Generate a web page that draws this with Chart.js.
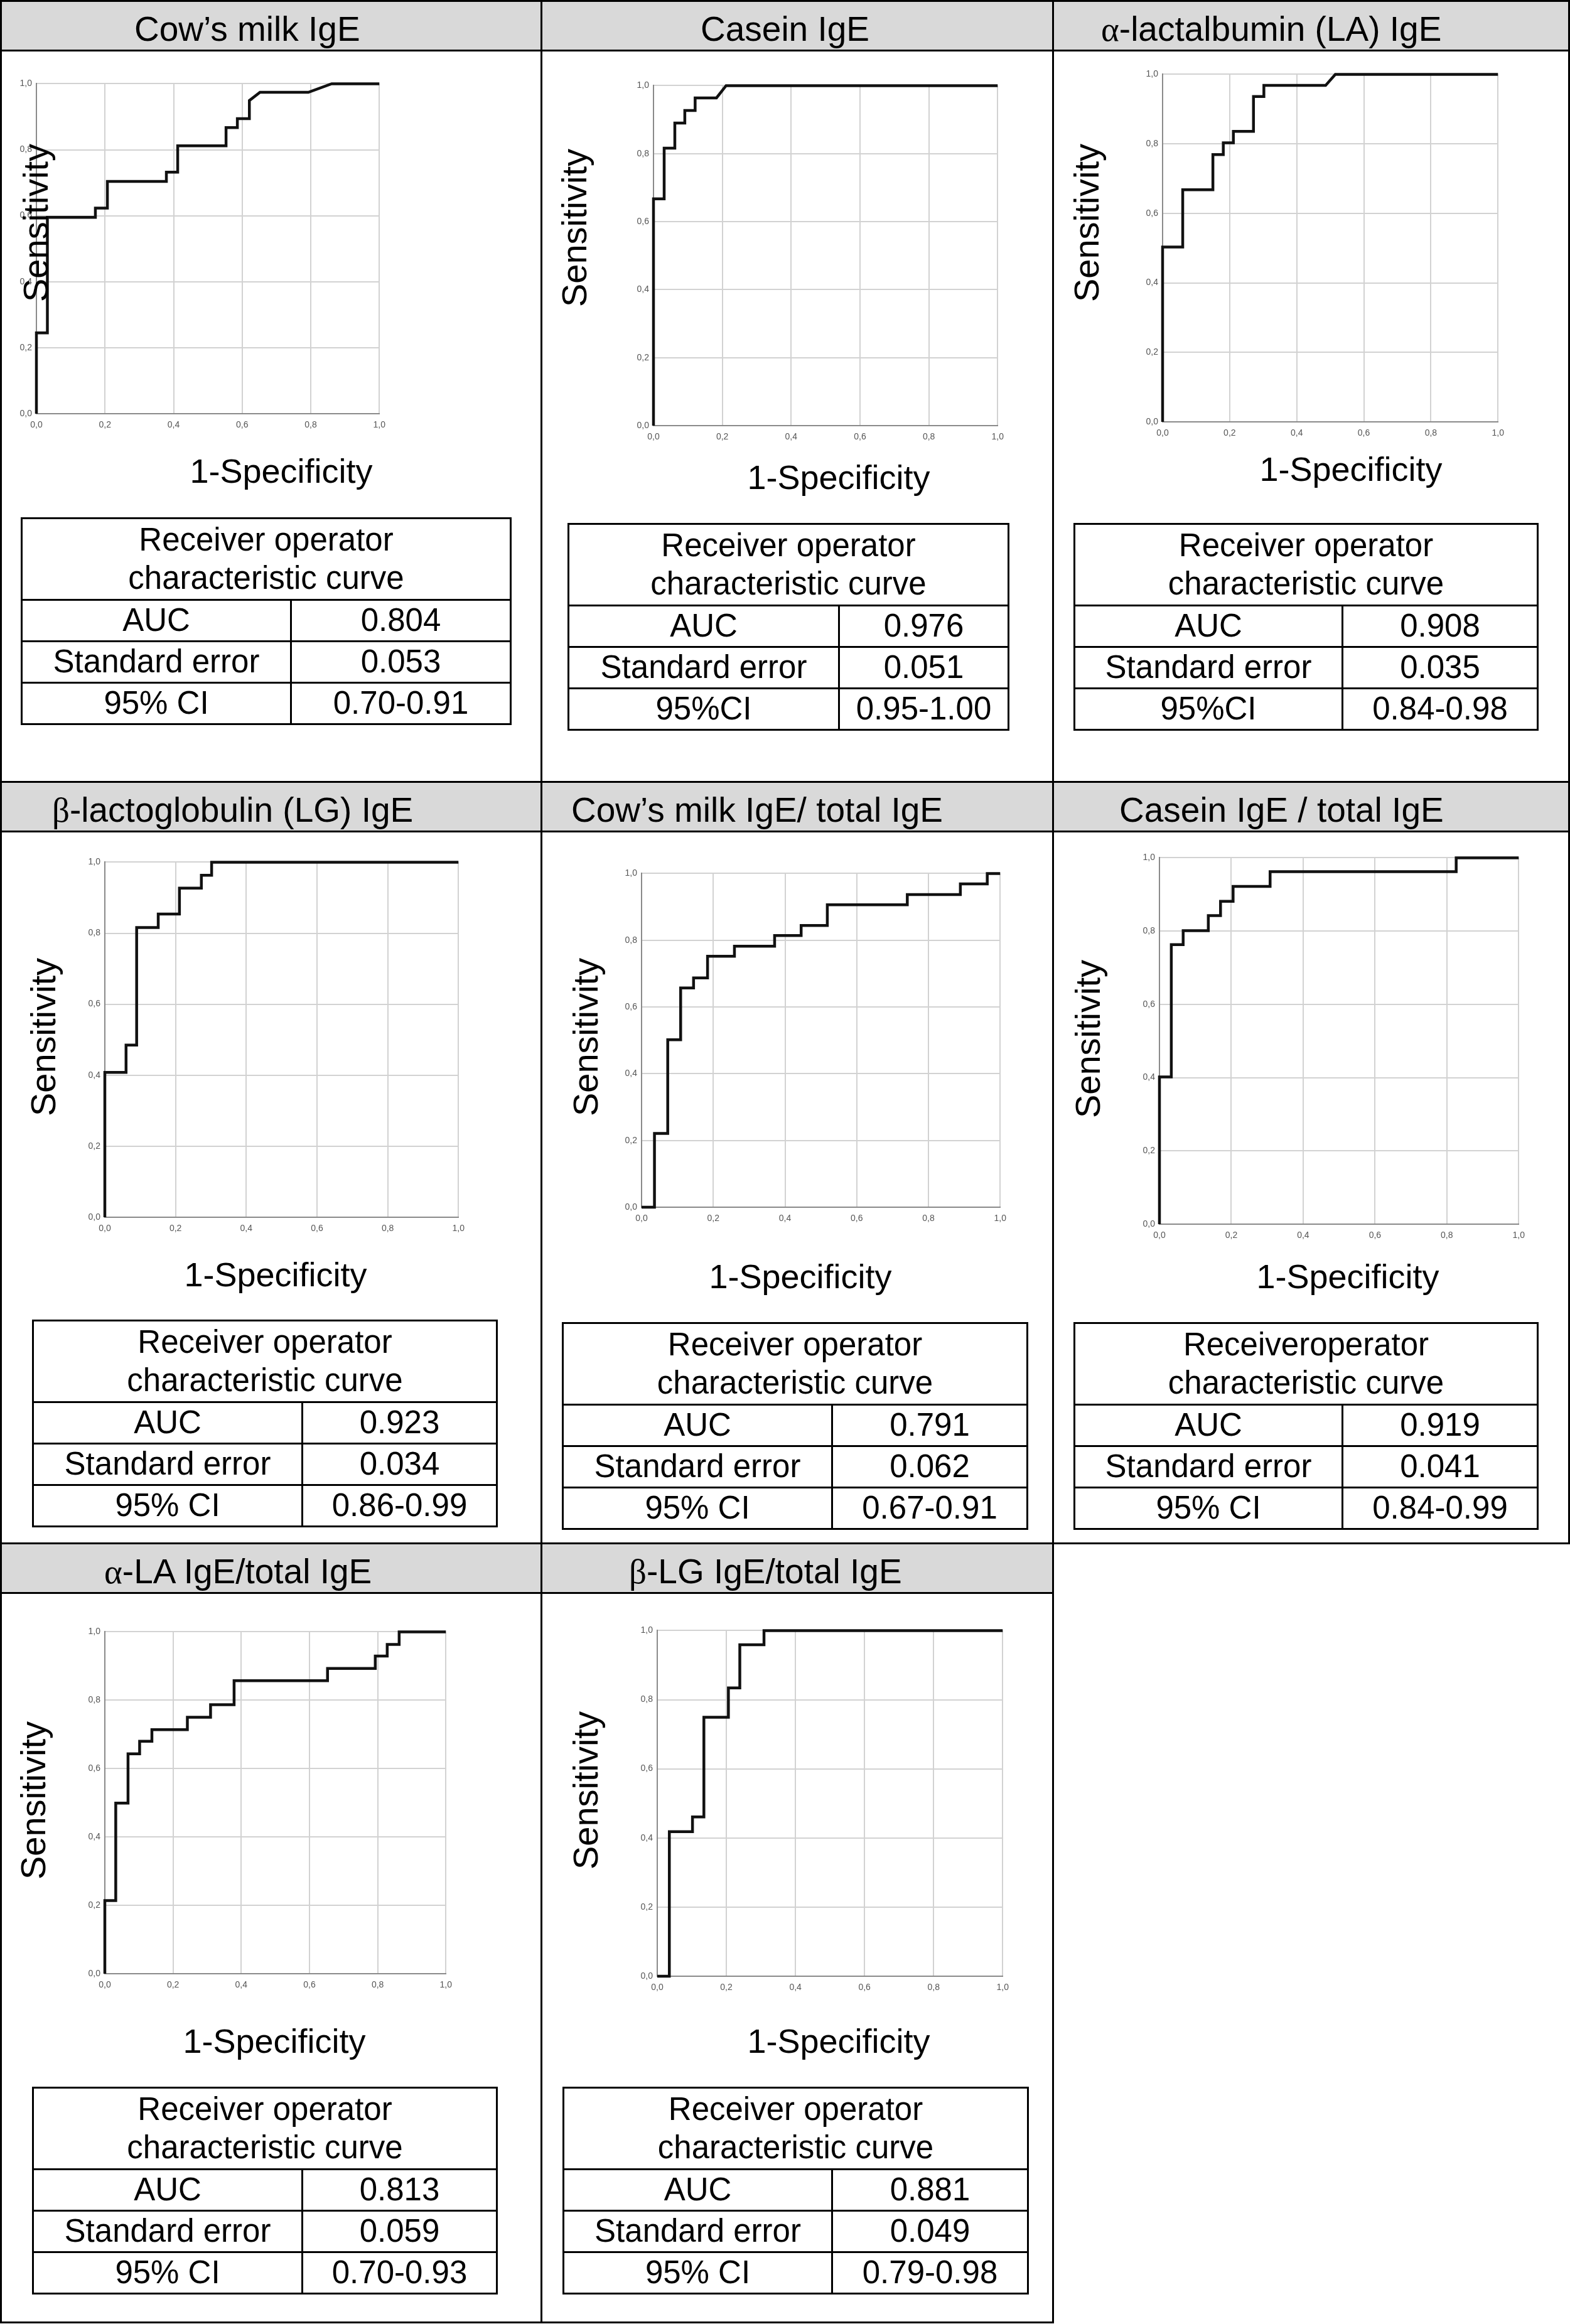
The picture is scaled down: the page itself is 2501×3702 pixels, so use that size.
<!DOCTYPE html>
<html>
<head>
<meta charset="utf-8">
<script src="https://cdn.jsdelivr.net/npm/chart.js@4"></script>
<style>
  body { margin: 0; background: #fff; }
  #page { position: relative; width: 2501px; height: 3702px; font-family: "Liberation Sans", Arial, sans-serif; color: #000; overflow: hidden; }
  .cell { position: absolute; border: 3px solid #000; box-sizing: border-box; }
  .head { position: absolute; left: 0; right: 0; top: 0; height: 76px; background: #d9d9d9; border-bottom: 3px solid #000; }
  .title { position: absolute; font-size: 55px; line-height: 1; white-space: nowrap; }
  .greek { font-family: "Liberation Serif", "DejaVu Serif", serif; }
  .ylab { position: absolute; font-size: 56px; line-height: 1; white-space: nowrap; transform: translate(-50%, -50%) rotate(-90deg); }
  .xlab { position: absolute; font-size: 54px; line-height: 1; white-space: nowrap; transform: translate(-50%, -50%); }
  canvas { position: absolute; }
  .roc { position: absolute; }
  .roc table { width: 100%; height: 100%; border-collapse: collapse; font-size: 51px; }
  .roc td { border: 3px solid #000; text-align: center; padding: 0; line-height: 1.18; }
</style>
</head>
<body>
<div id="page"></div>
<script>
// panel titles
const titles = [
  "Cow\u2019s milk IgE", "Casein IgE", "\u03b1-lactalbumin (LA) IgE",
  "\u03b2-lactoglobulin (LG) IgE", "Cow\u2019s milk IgE/ total IgE", "Casein IgE / total IgE",
  "\u03b1-LA IgE/total IgE", "\u03b2-LG IgE/total IgE"
];

// ROC coordinates (1-specificity, sensitivity)
const cowsMilkFpr = [0, 0, 0.032, 0.032, 0.172, 0.172, 0.207, 0.207, 0.379, 0.379, 0.412, 0.412, 0.553, 0.553, 0.586, 0.586, 0.621, 0.621, 0.652, 0.793, 0.861, 1];
const cowsMilkTpr = [0, 0.245, 0.245, 0.595, 0.595, 0.623, 0.623, 0.704, 0.704, 0.732, 0.732, 0.812, 0.812, 0.867, 0.867, 0.894, 0.894, 0.949, 0.974, 0.974, 1, 1];

const caseinFpr = [0, 0, 0.031, 0.031, 0.062, 0.062, 0.091, 0.091, 0.121, 0.121, 0.183, 0.211, 1];
const caseinTpr = [0, 0.667, 0.667, 0.816, 0.816, 0.890, 0.890, 0.927, 0.927, 0.964, 0.964, 1, 1];

const laFpr = [0, 0, 0.060, 0.060, 0.150, 0.150, 0.181, 0.181, 0.211, 0.211, 0.271, 0.271, 0.302, 0.302, 0.486, 0.515, 1];
const laTpr = [0, 0.503, 0.503, 0.668, 0.668, 0.769, 0.769, 0.803, 0.803, 0.836, 0.836, 0.936, 0.936, 0.968, 0.968, 1, 1];

const lgFpr = [0, 0, 0.060, 0.060, 0.090, 0.090, 0.151, 0.151, 0.211, 0.211, 0.273, 0.273, 0.302, 0.302, 1];
const lgTpr = [0, 0.408, 0.408, 0.485, 0.485, 0.816, 0.816, 0.854, 0.854, 0.927, 0.927, 0.963, 0.963, 1, 1];

const cmTotalFpr = [0, 0.036, 0.036, 0.073, 0.073, 0.109, 0.109, 0.145, 0.145, 0.184, 0.184, 0.259, 0.259, 0.371, 0.371, 0.445, 0.445, 0.518, 0.518, 0.741, 0.741, 0.889, 0.889, 0.964, 0.964, 1];
const cmTotalTpr = [0, 0, 0.221, 0.221, 0.502, 0.502, 0.657, 0.657, 0.687, 0.687, 0.752, 0.752, 0.782, 0.782, 0.814, 0.814, 0.844, 0.844, 0.906, 0.906, 0.937, 0.937, 0.969, 0.969, 1, 1];

const caseinTotalFpr = [0, 0, 0.033, 0.033, 0.066, 0.066, 0.136, 0.136, 0.170, 0.170, 0.205, 0.205, 0.308, 0.308, 0.826, 0.826, 1];
const caseinTotalTpr = [0, 0.402, 0.402, 0.763, 0.763, 0.801, 0.801, 0.842, 0.842, 0.881, 0.881, 0.922, 0.922, 0.962, 0.962, 1, 1];

const laTotalFpr = [0, 0, 0.032, 0.032, 0.068, 0.068, 0.102, 0.102, 0.138, 0.138, 0.242, 0.242, 0.310, 0.310, 0.379, 0.379, 0.653, 0.653, 0.793, 0.793, 0.828, 0.828, 0.863, 0.863, 1];
const laTotalTpr = [0, 0.214, 0.214, 0.499, 0.499, 0.643, 0.643, 0.680, 0.680, 0.714, 0.714, 0.750, 0.750, 0.787, 0.787, 0.857, 0.857, 0.893, 0.893, 0.929, 0.929, 0.963, 0.963, 1, 1];

const lgTotalFpr = [0, 0.035, 0.035, 0.102, 0.102, 0.135, 0.135, 0.206, 0.206, 0.239, 0.239, 0.309, 0.309, 1];
const lgTotalTpr = [0, 0, 0.418, 0.418, 0.461, 0.461, 0.749, 0.749, 0.834, 0.834, 0.959, 0.959, 1, 1];

const fprSeries = [cowsMilkFpr, caseinFpr, laFpr, lgFpr, cmTotalFpr, caseinTotalFpr, laTotalFpr, lgTotalFpr];
const tprSeries = [cowsMilkTpr, caseinTpr, laTpr, lgTpr, cmTotalTpr, caseinTotalTpr, laTotalTpr, lgTotalTpr];

// axis ticks
const tickValues = [0, 0.2, 0.4, 0.6, 0.8, 1.0];
const tickLabels = ["0,0", "0,2", "0,4", "0,6", "0,8", "1,0"];

// table contents
const rocHeaders = ["Receiver operator", "Receiver operator", "Receiver operator", "Receiver operator",
                    "Receiver operator", "Receiveroperator", "Receiver operator", "Receiver operator"];
const aucValues = ["0.804", "0.976", "0.908", "0.923", "0.791", "0.919", "0.813", "0.881"];
const seValues = ["0.053", "0.051", "0.035", "0.034", "0.062", "0.041", "0.059", "0.049"];
const ciLabels = ["95% CI", "95%CI", "95%CI", "95% CI", "95% CI", "95% CI", "95% CI", "95% CI"];
const ciValues = ["0.70-0.91", "0.95-1.00", "0.84-0.98", "0.86-0.99", "0.67-0.91", "0.84-0.99", "0.70-0.93", "0.79-0.98"];

// ---- layout (page pixels) ----
const colEdges = [1, 862, 1677, 2499];
const rowEdges = [1, 1245, 2458, 3699];
// [left, top, width, height] of each plotting area
const plotBoxes = [
  [58, 130, 550, 529], [1041, 133, 552, 545], [1852, 115, 538, 557],
  [167, 1370, 567, 569], [1022, 1388, 575, 535], [1847, 1363, 576, 587],
  [167, 2596, 547, 548], [1047, 2594, 554, 554]
];
const titleLeft = [214, 1116, 1754, 83, 910, 1783, 166, 1002];
const ylabPos = [[57, 355], [915, 363], [1731, 355], [69, 1652], [933, 1652], [1733, 1655], [53, 2868], [933, 2852]];
const xlabPos = [[448, 750], [1336, 760], [2152, 747], [439, 2030], [1275, 2033], [2147, 2033], [437, 3251], [1336, 3251]];
// [left, top, right, bottom, column split]
const tableBoxes = [
  [33, 824, 815, 1153, 462], [904, 833, 1608, 1162, 1335], [1710, 833, 2451, 1162, 2137],
  [51, 2102, 793, 2430, 480], [895, 2106, 1638, 2435, 1324], [1710, 2106, 2451, 2435, 2137],
  [51, 3324, 793, 3653, 480], [896, 3324, 1639, 3653, 1324]
];

const page = document.getElementById('page');

function el(tag, cls, css, html) {
    const e = document.createElement(tag);
    if (cls) e.className = cls;
    Object.assign(e.style, css || {});
    if (html !== undefined) e.innerHTML = html;
    page.appendChild(e);
    return e;
}

function titleHtml(t) {
    // greek letters in a serif face like the original
    return t.replace(/([\u03b1\u03b2])/g, '<span class="greek">$1</span>');
}

for (let i = 0; i < 8; i++) {
    const r = Math.floor(i / 3), c = i % 3;
    const cell = el('div', 'cell', {
        left: (colEdges[c] - 1.5) + 'px', top: (rowEdges[r] - 1.5) + 'px',
        width: (colEdges[c + 1] - colEdges[c] + 3) + 'px', height: (rowEdges[r + 1] - rowEdges[r] + 3) + 'px'
    });
    const head = document.createElement('div');
    head.className = 'head';
    cell.appendChild(head);
    el('div', 'title', { left: titleLeft[i] + 'px', top: (rowEdges[r] + 18) + 'px' }, titleHtml(titles[i]));

    el('div', 'ylab', { left: ylabPos[i][0] + 'px', top: ylabPos[i][1] + 'px' }, 'Sensitivity');
    el('div', 'xlab', { left: xlabPos[i][0] + 'px', top: xlabPos[i][1] + 'px' }, '1-Specificity');

    // roc summary table
    const [tl, tt, tr, tb, split] = tableBoxes[i];
    const tw = el('div', 'roc', { left: tl + 'px', top: tt + 'px', width: (tr - tl) + 'px', height: (tb - tt) + 'px' });
    const headH = Math.round((tb - tt) * 0.396);
    const rowH = Math.round(((tb - tt) - headH) / 3);
    tw.innerHTML = `
        <table>
            <colgroup><col style="width:${split - tl}px"><col></colgroup>
            <tr style="height:${headH}px"><td colspan="2">${rocHeaders[i]}<br>characteristic curve</td></tr>
            <tr style="height:${rowH}px"><td>AUC</td><td>${aucValues[i]}</td></tr>
            <tr style="height:${rowH}px"><td>Standard error</td><td>${seValues[i]}</td></tr>
            <tr style="height:${rowH}px"><td>${ciLabels[i]}</td><td>${ciValues[i]}</td></tr>
        </table>`;
}

// ---- charts ----
const Y_AXIS_W = 40, X_AXIS_H = 30, PAD_T = 12, PAD_R = 16;

function drawRoc(i) {
    const [l, t, w, h] = plotBoxes[i];
    const canvas = el('canvas', null, { left: (l - Y_AXIS_W) + 'px', top: (t - PAD_T) + 'px' });
    canvas.width = w + Y_AXIS_W + PAD_R;
    canvas.height = h + PAD_T + X_AXIS_H;

    const points = fprSeries[i].map((x, k) => ({ x: x, y: tprSeries[i][k] }));
    const tickFmt = v => {
        const k = tickValues.findIndex(tv => Math.abs(tv - v) < 1e-6);
        return k >= 0 ? tickLabels[k] : '';
    };
    const axisCommon = {
        type: 'linear', min: 0, max: 1,
        grid: { color: '#d2d2d2', lineWidth: 2, drawTicks: false },
        border: { color: '#8a8a8a', width: 2 },
        ticks: { stepSize: 0.2, callback: tickFmt, color: '#555', font: { family: 'Liberation Sans', size: 14 } }
    };

    new Chart(canvas.getContext('2d'), {
        type: 'scatter',
        data: {
            datasets: [{
                data: points,
                showLine: true,
                borderColor: '#111',
                borderWidth: 4.5,
                pointRadius: 0,
                fill: false,
                clip: 6
            }]
        },
        options: {
            responsive: false,
            animation: false,
            devicePixelRatio: 1,
            layout: { padding: { top: PAD_T, right: PAD_R, left: 0, bottom: 0 } },
            plugins: { legend: { display: false }, tooltip: { enabled: false } },
            scales: {
                x: Object.assign({}, axisCommon, {
                    ticks: Object.assign({}, axisCommon.ticks, { padding: 10, maxRotation: 0 }),
                    afterFit: s => { s.height = X_AXIS_H; }
                }),
                y: Object.assign({}, axisCommon, {
                    ticks: Object.assign({}, axisCommon.ticks, { padding: 7 }),
                    afterFit: s => { s.width = Y_AXIS_W; }
                })
            }
        }
    });
}

for (let i = 0; i < 8; i++) drawRoc(i);

// labels sit above the canvases like in the source image
document.querySelectorAll('.ylab, .xlab').forEach(n => page.appendChild(n));
</script>
</body>
</html>
